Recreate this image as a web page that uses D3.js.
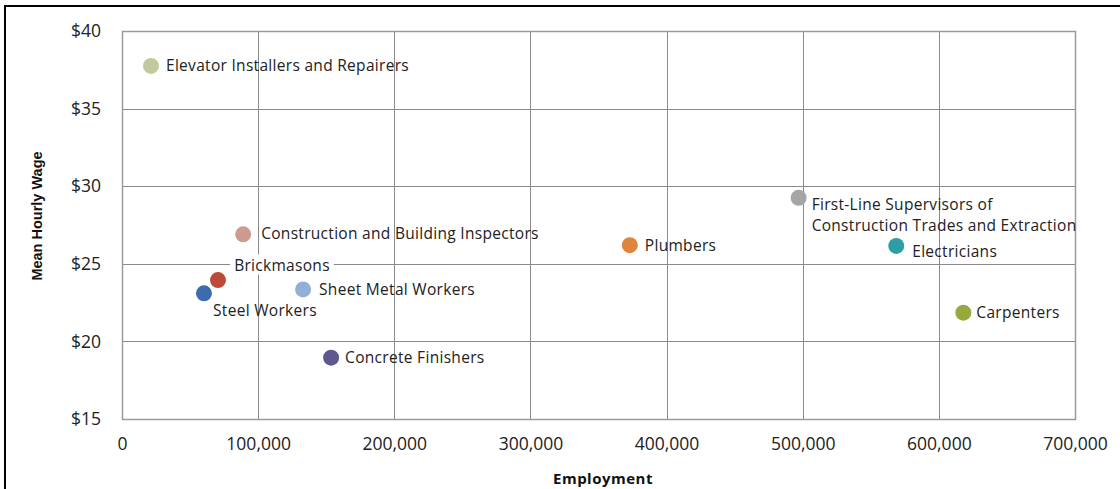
<!DOCTYPE html>
<html>
<head>
<meta charset="utf-8">
<script src="https://cdn.jsdelivr.net/npm/d3@7"></script>
<style>
  html, body { margin: 0; padding: 0; background: #fff; }
  svg { display: block; }
</style>
</head>
<body>
<svg id="chart" width="1120" height="489"></svg>
<script>
// ---- data ----
const occupations = [
  "Elevator Installers and Repairers",
  "Construction and Building Inspectors",
  "Brickmasons",
  "Steel Workers",
  "Sheet Metal Workers",
  "Concrete Finishers",
  "Plumbers",
  "First-Line Supervisors of Construction Trades and Extraction",
  "Electricians",
  "Carpenters"
];
const employment = [21300, 89000, 70500, 60200, 133000, 153600, 373000, 497000, 568700, 618000];
const meanHourlyWage = [37.75, 26.9, 23.95, 23.1, 23.35, 18.95, 26.2, 29.25, 26.15, 21.85];
const xTicks = [0, 100000, 200000, 300000, 400000, 500000, 600000, 700000];
const yTicks = [15, 20, 25, 30, 35, 40];

// ---- styling / layout (not data) ----
const colors = ["#c2c99c", "#cf9a8e", "#bd4a37", "#3d6cad", "#92b0d6", "#5e5890", "#e0843c", "#a5a5a5", "#2e9ea6", "#97a83d"];
// label placement relative to the marker: [dx, dy, anchor]
const labelPlacement = [
  [15, 0, "start"],
  [18, -1, "start"],
  [64, -15, "middle"],
  [61, 17, "middle"],
  [16, 0, "start"],
  [14, 0, "start"],
  [15, 0, "start"],
  [13, 7, "start"],
  [16, 6, "start"],
  [13, 0, "start"]
];
const multiLine = {7: ["First-Line Supervisors of", "Construction Trades and Extraction"]};

const svg = d3.select("#chart");
const W = 1120, H = 489;
const m = {left: 122, right: 1120 - 1075, top: 31, bottom: 489 - 419};

// outer frame
svg.append("rect").attr("x", 5).attr("y", 6).attr("width", 1130).attr("height", 500)
  .attr("fill", "#fff").attr("stroke", "#000").attr("stroke-width", 2);

const x = d3.scaleLinear().domain([0, 700000]).range([m.left, W - m.right]);
const y = d3.scaleLinear().domain([15, 40]).range([H - m.bottom, m.top]);

const fmtX = d3.format(",");
const font = "'Open Sans', 'Noto Sans', sans-serif";

// grid
const grid = svg.append("g");
grid.selectAll("line.v").data(xTicks).join("line")
  .attr("x1", d => Math.round(x(d)) + 0.5).attr("x2", d => Math.round(x(d)) + 0.5)
  .attr("y1", y(40)).attr("y2", y(15))
  .attr("stroke", "#8a8a8a").attr("stroke-width", 1);
grid.selectAll("line.h").data(yTicks).join("line")
  .attr("y1", d => Math.round(y(d)) + 0.5).attr("y2", d => Math.round(y(d)) + 0.5)
  .attr("x1", x(0)).attr("x2", x(700000))
  .attr("stroke", "#8a8a8a").attr("stroke-width", 1);
// plot border
svg.append("rect").attr("x", x(0) + 0.5).attr("y", y(40) + 0.5)
  .attr("width", x(700000) - x(0)).attr("height", y(15) - y(40))
  .attr("fill", "none").attr("stroke", "#9a9a9a").attr("stroke-width", 1.5);

// axes (labels only)
const xAxis = svg.append("g").attr("transform", `translate(0,${y(15)})`)
  .call(d3.axisBottom(x).tickValues(xTicks).tickFormat(fmtX).tickSize(0).tickPadding(19));
xAxis.select(".domain").remove();
xAxis.selectAll("text").attr("font-family", font).attr("font-size", 17.5).attr("fill", "#222");

const yAxis = svg.append("g").attr("transform", `translate(${x(0)},0)`)
  .call(d3.axisLeft(y).tickValues(yTicks).tickFormat(d => "$" + d).tickSize(0).tickPadding(21));
yAxis.select(".domain").remove();
yAxis.selectAll("text").attr("font-family", font).attr("font-size", 17.5).attr("fill", "#222");

// axis titles
svg.append("text").attr("x", 603).attr("y", 484).attr("text-anchor", "middle")
  .attr("font-family", font).attr("font-weight", "bold").attr("font-size", 15).attr("letter-spacing", 0.5).attr("fill", "#111")
  .text("Employment");
svg.append("text").attr("transform", "translate(42,216) rotate(-90)").attr("text-anchor", "middle")
  .attr("font-family", "'Liberation Sans', Arial, sans-serif").attr("font-weight", "bold").attr("font-size", 14.5).attr("fill", "#111")
  .text("Mean Hourly Wage");

// points
const idx = d3.range(occupations.length);
svg.append("g").selectAll("circle").data(idx).join("circle")
  .attr("cx", i => x(employment[i])).attr("cy", i => y(meanHourlyWage[i]))
  .attr("r", 8).attr("fill", i => colors[i]);

// labels
const lg = svg.append("g");
idx.forEach(i => {
  const [dx, dy, anchor] = labelPlacement[i];
  const px = x(employment[i]) + dx, py = y(meanHourlyWage[i]) + dy;
  const lines = multiLine[i] || [occupations[i]];
  const t = lg.append("text").attr("x", px).attr("y", py)
    .attr("text-anchor", anchor).attr("font-family", font).attr("font-size", 15.5)
    .attr("letter-spacing", 0.3).attr("fill", "#222");
  lines.forEach((ln, k) => {
    t.append("tspan").attr("x", px).attr("dy", k === 0 ? "0.35em" : "1.35em").text(ln);
  });
  if (i === 2) {
    const bb = t.node().getBBox();
    lg.insert("rect", () => t.node()).attr("x", bb.x - 4).attr("y", bb.y + 1).attr("width", bb.width + 8).attr("height", bb.height - 2).attr("fill", "#fff");
  }
});
</script>
</body>
</html>
